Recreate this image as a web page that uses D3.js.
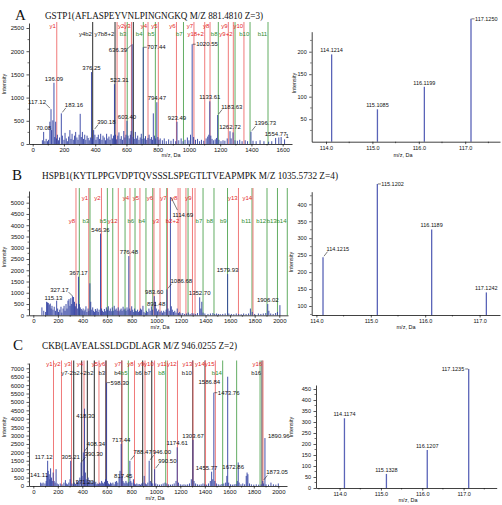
<!DOCTYPE html>
<html><head><meta charset="utf-8">
<script src="https://cdn.jsdelivr.net/npm/d3@7"></script>
<style>body{margin:0;background:#fff}svg{display:block}</style>
</head><body><svg id="c" width="502" height="505"></svg>
<script>
// ================= DATA =================
const panelLetters = ["A", "B", "C"];
const panelTitles = [
  "GSTP1(AFLASPEYVNLPINGNGKQ M/Z 881.4810 Z=3)",
  "HSPB1(KYTLPPGVDPTQVSSSLSPEGTLTVEAPMPK M/Z 1035.5732 Z=4)",
  "CKB(LAVEALSSLDGDLAGR M/Z 946.0255 Z=2)"
];
const mainXTicksA = [0,200,400,600,800,1000,1200,1400,1600];
const mainXTicksBC = [0,200,400,600,800,1000,1200,1400,1600,1800,2000];
const mainYTicksA = [0,500,1000,1500,2000,2500];
const mainYTicksB = [0,500,1000,1500,2000,2500,3000,3500,4000,4500,5000];
const mainYTicksC = [0,500,1000,1500,2000,2500,3000,3500,4000,4500,5000,5500,6000,6500,7000];
const insetXTicks = [114,115,116,117];
const insetYTicksA = [50,100,150,200];
const insetYTicksB = [100,150,200,250,300,350,400];
const insetYTicksC = [0,50,100,150,200,250,300,350,400,450];

// peaks: [m/z, intensity, optional label]
const peaksA = [
[62,80],[70.08,260,"70.08"],[78,60],[86,110],[95,60],[101,90],[110,480],[117.12,750,"117.12"],[121,300],[129,510],[136.09,1320,"136.09"],[141,150],[147,480],[152,120],[158,200],[165,80],[172,140],[183.16,660,"183.16"],[190,180],[200,90],[207,240],[215,120],[222,60],[230,160],[238,300],[245,110],[252,220],[260,90],[268,180],[275,260],[283,140],[290,90],[297,200],[304,650],[311,150],[318,260],[325,110],[333,200],[340,90],[348,180],[355,130],[362,80],[369,140],[376.25,1550,"376.25"],[383,120],[390.18,300,"390.18"],[398,200],[405,90],[412,150],[420,200],[428,110],[435,220],[443,90],[450,180],[458,140],[466,80],[473,220],[481,120],[488,160],[495,90],[502,210],[510,120],[517,180],[523.31,1290,"523.31"],[530,200],[537,100],[545,180],[552,250],[560,110],[567,170],[575,90],[583,280],[590,140],[597,200],[603.4,500,"603.40"],[610,180],[618,120],[625,200],[630,280],[636.39,2150,"636.39"],[643,150],[650,110],[657,260],[665,120],[672,180],[680,90],[688,140],[695,220],[700,110],[707.44,2085,"707.44"],[714,120],[722,170],[730,90],[738,130],[745,200],[752,110],[760,150],[767,90],[772,660],[780,180],[787,120],[794.47,900,"794.47"],[801,150],[808,90],[816,120],[830,80],[842,120],[855,60],[870,100],[885,70],[900,110],[915,60],[923.49,480,"923.49"],[935,80],[950,120],[962,60],[975,90],[990,140],[1000,80],[1010,200],[1020.55,2150,"1020.55"],[1030,150],[1042,90],[1055,110],[1068,60],[1080,90],[1095,70],[1110,120],[1120,160],[1127,200],[1133.61,920,"1133.61"],[1140,180],[1148,110],[1158,80],[1168,100],[1176,130],[1183.63,625,"1183.63"],[1192,90],[1205,60],[1218,80],[1230,70],[1245,120],[1262.72,275,"1262.72"],[1270,120],[1282,250],[1295,80],[1310,70],[1325,90],[1340,60],[1360,80],[1375,60],[1396.73,265,"1396.73"],[1410,70],[1430,60],[1455,80],[1480,60],[1510,50],[1530,60],[1554.77,130,"1554.77"],[1575,140],[1590,150],[1612,100,"1"]
];
const peaksB = [
[70,350],[85,200],[100,150],[108,600],[115.13,570,"115.13"],[122,550],[130,480],[138,520],[145,300],[152,420],[160,250],[170,380],[180,200],[190,650],[198,300],[205,150],[215,250],[225,380],[232,120],[242,300],[250,420],[258,200],[266,500],[274,300],[282,650],[290,720],[298,420],[305,760],[312,500],[318,850],[327.17,810,"327.17"],[335,600],[342,400],[350,520],[358,300],[367.17,1715,"367.17"],[375,500],[382,350],[390,280],[398,220],[405,300],[413,180],[420,250],[428,400],[436,150],[445,300],[452,200],[460,1420],[467,600],[475,250],[483,350],[490,200],[498,150],[505,280],[512,200],[520,300],[528,150],[535,250],[546.36,3630,"546.36"],[555,300],[562,200],[570,150],[578,280],[586,180],[594,350],[602,250],[610,400],[618,200],[626,300],[634,180],[642,350],[650,200],[658,420],[666,250],[674,300],[682,200],[690,350],[698,180],[706,250],[714,300],[722,200],[730,380],[738,250],[746,300],[754,200],[762,350],[770,250],[776.48,2630,"776.48"],[784,300],[792,200],[800,400],[808,250],[816,150],[824,300],[832,200],[840,180],[848,250],[856,150],[864,200],[872,300],[880,250],[891.48,420,"891.48"],[900,150],[910,100],[920,200],[930,150],[940,300],[950,200],[960,400],[970,250],[983.6,850,"983.60"],[992,600],[1000,300],[1010,180],[1020,250],[1030,150],[1040,200],[1050,120],[1060,200],[1070,150],[1080,250],[1086.68,1150,"1086.68"],[1095,300],[1105,200],[1114.69,5250,"1114.69"],[1122,400],[1130,250],[1140,150],[1150,200],[1160,120],[1170,300],[1180,100],[1190,150],[1200,80],[1215,100],[1230,60],[1245,80],[1260,120],[1275,60],[1290,100],[1305,80],[1320,60],[1335,100],[1352.7,800,"1352.70"],[1362,300],[1370,600],[1380,120],[1395,80],[1420,60],[1440,80],[1460,100],[1475,60],[1490,80],[1505,60],[1520,50],[1540,60],[1560,80],[1579.93,1830,"1579.93"],[1590,80],[1610,60],[1630,50],[1650,80],[1670,60],[1690,50],[1710,80],[1730,60],[1750,80],[1765,300],[1780,150],[1800,60],[1830,80],[1850,60],[1870,80],[1890,100],[1906.02,500,"1906.02"],[1915,200],[1930,80],[1950,60],[1970,100],[1985,150],[2005,450]
];
const peaksC = [
[60,200],[70,150],[80,200],[95,150],[105,300],[110,600],[117.12,1500,"117.12"],[122,900],[130,700],[135,400],[141.11,1050,"141.11"],[148,500],[155,300],[162,800],[170,300],[178,200],[186,1000],[195,150],[205,100],[220,150],[235,100],[250,200],[262,350],[270,150],[280,100],[290,200],[300,400],[305.21,1500,"305.21"],[315,150],[325,100],[335,200],[345,120],[355,300],[362,200],[371.2,300,"371.20"],[380,500],[390.3,1400,"390.30"],[398,600],[408.34,2000,"408.34"],[418.3,4600,"418.30"],[425,800],[432,400],[440,300],[448,500],[455,250],[462,350],[470,200],[478,150],[486,300],[494,200],[502,150],[510,250],[518,100],[526,150],[534,120],[542,200],[550,150],[558,300],[566,200],[574,150],[582,250],[590,400],[598.3,6150,"598.30"],[606,300],[614,150],[622,100],[630,200],[640,150],[650,200],[660,100],[670,250],[680,300],[690,200],[700,500],[708,900],[717.44,2500,"717.44"],[725,600],[732,300],[740,200],[748,150],[756,300],[764,200],[772,150],[780,250],[788.47,1500,"788.47"],[796,300],[805,200],[817.45,400,"817.45"],[825,150],[835,100],[845,150],[855,100],[865,120],[875,80],[885,150],[895,200],[905,600],[915,150],[925,100],[935,200],[946,1500,"946.00"],[955,300],[965,200],[975,150],[990.5,1000,"990.50"],[1000,150],[1015,100],[1030,80],[1045,100],[1060,150],[1075,200],[1090,150],[1105,100],[1120,80],[1135,100],[1150,150],[1165,300],[1174.61,2300,"1174.61"],[1185,200],[1200,100],[1215,80],[1230,100],[1245,80],[1260,100],[1275,150],[1290,400],[1303.67,2750,"1303.67"],[1312,300],[1325,150],[1340,100],[1355,80],[1370,100],[1385,150],[1400,100],[1415,80],[1430,150],[1445,300],[1455.77,850,"1455.77"],[1465,400],[1473.76,5550,"1473.76"],[1482,300],[1495,150],[1510,100],[1525,80],[1540,120],[1555,150],[1570,200],[1580,600],[1586.84,6500,"1586.84"],[1595,200],[1610,100],[1625,80],[1640,100],[1655,120],[1665,300],[1672.86,1400,"1672.86"],[1680,200],[1695,100],[1710,150],[1725,100],[1738,600],[1745,800],[1752,700],[1765,150],[1780,100],[1800,80],[1820,100],[1840,80],[1860,100],[1873.05,300,"1873.05"],[1880,150],[1890.96,2850,"1890.96"],[1900,100],[1920,80],[1940,200],[1960,100],[1980,80],[2000,150]
];

// fragment-ion annotation lines: [m/z, ion type (y red, b green, x dark), label, label row]
const ionsA = [
[154,'y','y1',1],[384,'x','y4b2',2],[527,'x','y7b8+2',2],[540,'y','',0],[591,'y','y2',1],[605,'b','b3',2],
[632,'y','y3',1],[644,'x','',0],[708,'b','b4',2],[738,'y','y4',1],[785,'b','b5',2],[804,'y','y5',1],
[920,'y','y6',1],[965,'b','b7',2],[1032,'y','y7',1],[1101,'y','y18+2',2],[1135,'y','y8',1],[1188,'b','b8',2],
[1252,'y','y9',1],[1284,'y','y9+2',2],[1295,'b','',0],[1352,'y','y10',1],[1391,'b','b10',2],[1506,'b','b11',2]
];
const ionsB = [
[347,'y','y8',2],[374,'b','',0],[451,'y','y1',1],[461,'b','b3',2],[554,'y','y2',1],[602,'b','b5',2],
[646,'b','',0],[691,'y','y12',2],[746,'b','',0],[786,'y','y4',1],[827,'b','b6',2],[867,'y','y5',1],
[916,'b','b4',2],[971,'b','',0],[981,'y','y6',1],[1030,'y','y3',2],[1085,'b','',0],[1091,'y','y7',1],
[1177,'y','y8',1],[1193,'y','b2+2',2],[1241,'y','',0],[1258,'b','',0],[1294,'y','y9',1],[1315,'y','',0],
[1380,'b','b7',2],[1469,'b','b8',2],[1579,'b','b9',2],[1668,'y','y13',1],[1778,'b','b11',2],[1786,'y','y14',1],
[1900,'b','b12',2],[1985,'b','b13',2],[2065,'b','b14',2]
];
const ionsC = [
[165,'y','y1',1],[230,'y','y2',1],[312,'y','y3',1],[330,'x','y7-2',2],[395,'x','',0],[414,'y','y4',1],
[441,'x','b2+2',2],[498,'x','b2',2],[536,'y','y5',1],[594,'y','y6',1],[593,'x','b3',2],[722,'x','b4',2],
[724,'y','y7',1],[776,'b','b5',2],[826,'y','y8',1],[893,'x','b6',2],[912,'y','y9',1],[967,'x','b7',2],
[990,'y','y10',1],[1081,'b','b8',2],[1095,'y','y11',1],[1177,'y','y12',1],[1301,'x','b10',2],[1304,'y','y13',1],
[1402,'x','',0],[1406,'y','y14',1],[1486,'y','y15',1],[1546,'b','b14',2],[1660,'b','',0],[1851,'b','',0],
[1867,'x','b16',2],[1875,'y','y16',1]
];

// iTRAQ reporter ions: [m/z, intensity]
const reporterA = [[114.1214,194],[115.1085,72],[116.1199,122],[117.1250,273]];
const reporterB = [[114.1215,244],[115.1202,460],[116.1189,326],[117.1242,140]];
const reporterC = [[114.1174,317],[115.1328,64],[116.1207,173],[117.1235,541]];

// ================= LAYOUT / STYLE =================
const SANS = "'Liberation Sans', Arial, Helvetica, sans-serif";
const SERIF = "'Liberation Serif', 'Times New Roman', serif";
const C_PEAK = "#2f3ea2", C_STEM = "#5a64b8";
const LINE_COL = {y:"#f07a7a", b:"#63ad63", x:"#2a2a2a"};
const TEXT_COL = {y:"#e32626", b:"#2e8c2e", x:"#222"};

const LAYOUT = [
 { letter:[15,20], title:[45,18.5,218],
   main:{left:29,right:292,x0:32.7,xr:[1600,282.7],base:144,top:23,yr:[2500,28],lineTop:22,rows:[28,36.3],
     xl:[171,157], yl:[6,84], xt:mainXTicksA, yt:mainYTicksA, peaks:peaksA, ions:ionsA, key:"A"},
   inset:{left:311.7,right:500,x0:[114,326],x1:[117,465.2],base:141.7,top:31.7,y0:[0,141.7],y1:[200,51.7],
     xl:[403,157], yl:[296,83], yt:insetYTicksA, data:reporterA, key:"Ai"} },
 { letter:[12,180], title:[42,179,296],
   main:{left:29,right:288,x0:33.3,xr:[2000,279.3],base:315.3,top:191,yr:[5000,202.7],lineTop:188,rows:[200,223],
     xl:[160,329], yl:[6,257], xt:mainXTicksBC, yt:mainYTicksB, peaks:peaksB, ions:ionsB, key:"B"},
   inset:{left:311.7,right:500,x0:[114,316.4],x1:[117,479.6],base:315,top:191.7,y0:[100,306],y1:[400,204.3],
     xl:[406,329], yl:[293,262], yt:insetYTicksB, data:reporterB, key:"Bi"} },
 { letter:[13,350], title:[42,349,195],
   main:{left:29,right:287,x0:33.3,xr:[2000,278.3],base:486,top:363,yr:[7000,368.3],lineTop:360.5,rows:[366,374.5],
     xl:[155,500], yl:[6,427], xt:mainXTicksBC, yt:mainYTicksC, peaks:peaksC, ions:ionsC, key:"C"},
   inset:{left:316,right:496.7,x0:[114,339.6],x1:[117,463.6],base:488,top:385,y0:[0,488],y1:[450,389],
     xl:[408,502], yl:[293,427], yt:insetYTicksC, data:reporterC, key:"Ci"} }
];

// label placement (presentation only)
const LBL = {
 "A:117.12":"ul","A:183.16":"ur","A:390.18":"ur","A:523.31":[5,-2,"middle"],"A:636.39":"dl","A:707.44":"r",
 "A:1020.55":"r","A:1183.63":"ur","A:1396.73":"ur","A:1":[1,-1,"start"],
 "B:115.13":[6,-2,"middle"],"B:327.17":"ul","B:891.48":[4,0,"start"],"B:1086.68":"ur","B:1114.69":"dr",
 "C:117.12":[-4,-2,"middle"],"C:141.11":[-20.5,9,"start"],"C:371.20":[6,3,"middle"],"C:390.30":"ur",
 "C:408.34":"ur","C:418.30":[1,9.5,"middle"],"C:598.30":"r","C:788.47":"ur","C:817.45":[-1,-1.5,"end"],
 "C:946.00":"ur","C:990.50":"ur","C:1455.77":[-5,-2,"middle"],"C:1473.76":"r","C:1586.84":[-7.5,7,"end"],
 "C:1672.86":[-5,7,"middle"],"C:1873.05":"ur","C:1890.96":[3,0,"start"],
 "Ai:117.1250":"r","Bi:114.1215":"ur","Bi:115.1202":"r","Ci:117.1235":"L"
};

const svg = d3.select("#c");
svg.append("rect").attr("width",502).attr("height",505).attr("fill","#fff");

function placeLabel(g, key, text, px, top, fs) {
  const p = LBL[key + ":" + text];
  let tx = px, ty = top - 2, anchor = "middle", lead = null;
  if (Array.isArray(p)) { tx = px + p[0]; ty = top + p[1]; anchor = p[2]; }
  else if (p === "r") { lead=[px+0.5,top,px+3.5,top]; tx=px+4; ty=top+2; anchor="start"; }
  else if (p === "L") { lead=[px-0.5,top,px-3.5,top]; tx=px-4.5; ty=top+2; anchor="end"; }
  else if (p === "ul") { lead=[px-1,top-1,px-5,top-5]; tx=px-5; ty=top-5.5; anchor="end"; }
  else if (p === "ur") { lead=[px+1,top-1,px+4.5,top-5.5]; tx=px+3.5; ty=top-6.5; anchor="start"; }
  else if (p === "dl") { lead=[px-1,top+1,px-5,top+5]; tx=px-5; ty=top+8; anchor="end"; }
  else if (p === "dr") { lead=[px+1,top+1,px+7,top+13]; tx=px+2; ty=top+20; anchor="start"; }
  if (lead) g.append("line").attr("x1",lead[0]).attr("y1",lead[1]).attr("x2",lead[2]).attr("y2",lead[3])
     .attr("stroke","#222").attr("stroke-width",0.6);
  g.append("text").attr("x",tx).attr("y",ty).attr("text-anchor",anchor)
    .attr("font-family",SANS).attr("font-size",fs).attr("fill","#111").text(text);
}

function styleAxis(sel, fs) {
  sel.selectAll("path.domain").attr("stroke","#111").attr("stroke-width",0.8);
  sel.selectAll(".tick line").attr("stroke","#111").attr("stroke-width",0.7);
  sel.selectAll(".tick text").attr("font-family",SANS).attr("font-size",fs).attr("fill","#111");
}

function axisTitles(g, xl, yl) {
  g.append("text").attr("x",xl[0]).attr("y",xl[1]).attr("text-anchor","middle")
    .attr("font-family",SANS).attr("font-size",5.5).attr("fill","#111").text("m/z, Da");
  g.append("text").attr("transform",`translate(${yl[0]},${yl[1]}) rotate(-90)`).attr("text-anchor","middle")
    .attr("font-family",SANS).attr("font-size",5.5).attr("fill","#111").text("Intensity");
}

function drawMain(M) {
  const g = svg.append("g");
  const kx = (M.xr[1]-M.x0)/M.xr[0];
  const x = d3.scaleLinear().domain([(M.left-M.x0)/kx,(M.right-M.x0)/kx]).range([M.left,M.right]);
  const ky = (M.base-M.yr[1])/M.yr[0];
  const y = d3.scaleLinear().domain([0,(M.base-M.top)/ky]).range([M.base,M.top]);

  g.selectAll("line.ion").data(M.ions).join("line").attr("class","ion")
    .attr("x1",d=>x(d[0])).attr("x2",d=>x(d[0])).attr("y1",M.lineTop).attr("y2",M.base)
    .attr("stroke",d=>LINE_COL[d[1]]).attr("stroke-width",1);
  g.selectAll("line.pk").data(M.peaks).join("line").attr("class","pk")
    .attr("x1",d=>x(d[0])).attr("x2",d=>x(d[0])).attr("y1",M.base).attr("y2",d=>y(d[1]))
    .attr("stroke",C_PEAK).attr("stroke-width",0.9);
  g.selectAll("text.ion").data(M.ions.filter(d=>d[2])).join("text").attr("class","ion")
    .attr("x",d=>x(d[0])-0.8).attr("y",d=>M.rows[d[3]-1]).attr("text-anchor","end")
    .attr("font-family",SANS).attr("font-size",6).attr("fill",d=>TEXT_COL[d[1]]).text(d=>d[2]);
  M.peaks.filter(d=>d[2]).forEach(d=>placeLabel(g, M.key, d[2], x(d[0]), y(d[1]), 6));

  const xa = g.append("g").attr("transform",`translate(0,${M.base})`)
    .call(d3.axisBottom(x).tickValues(M.xt).tickSize(2.5).tickSizeOuter(0).tickPadding(1).tickFormat(d3.format("d")));
  styleAxis(xa, 6);
  const minorX = d3.range(100, M.xt[M.xt.length-1]+1, 200).filter(v=>x(v)<=M.right);
  g.append("g").selectAll("line").data(minorX).join("line")
    .attr("x1",d=>x(d)).attr("x2",d=>x(d)).attr("y1",M.base).attr("y2",M.base+1.5)
    .attr("stroke","#111").attr("stroke-width",0.6);
  const ya = g.append("g").attr("transform",`translate(${M.left},0)`)
    .call(d3.axisLeft(y).tickValues(M.yt).tickSize(2.5).tickSizeOuter(0).tickPadding(2.5).tickFormat(d3.format("d")));
  styleAxis(ya, 6);
  const minorY = d3.range(250, y.domain()[1], 500);
  g.append("g").selectAll("line").data(minorY).join("line")
    .attr("x1",M.left-1.5).attr("x2",M.left).attr("y1",d=>y(d)).attr("y2",d=>y(d))
    .attr("stroke","#111").attr("stroke-width",0.6);
  axisTitles(g, M.xl, M.yl);
}

function drawInset(I) {
  const g = svg.append("g");
  const kx = (I.x1[1]-I.x0[1])/(I.x1[0]-I.x0[0]);
  const x = d3.scaleLinear().domain([I.x0[0]+(I.left-I.x0[1])/kx, I.x0[0]+(I.right-I.x0[1])/kx]).range([I.left,I.right]);
  const ky = (I.y0[1]-I.y1[1])/(I.y1[0]-I.y0[0]);
  const y = d3.scaleLinear().domain([I.y0[0]-(I.base-I.y0[1])/ky, I.y0[0]+(I.y0[1]-I.top)/ky]).range([I.base,I.top]);

  g.selectAll("line.st").data(I.data).join("line").attr("class","st")
    .attr("x1",d=>x(d[0])).attr("x2",d=>x(d[0])).attr("y1",I.base).attr("y2",d=>y(d[1]))
    .attr("stroke",C_STEM).attr("stroke-width",1.3);
  I.data.forEach(d=>placeLabel(g, I.key, d[0].toFixed(4), x(d[0]), y(d[1]), 5.5));

  const xa = g.append("g").attr("transform",`translate(0,${I.base})`)
    .call(d3.axisBottom(x).tickValues(insetXTicks).tickSize(2.5).tickSizeOuter(0).tickPadding(1.5).tickFormat(d3.format(".1f")));
  styleAxis(xa, 5.5);
  const minorX = [113.5,114.5,115.5,116.5,117.5].filter(v=>x(v)>=I.left && x(v)<=I.right);
  g.append("g").selectAll("line").data(minorX).join("line")
    .attr("x1",d=>x(d)).attr("x2",d=>x(d)).attr("y1",I.base).attr("y2",I.base+1.5)
    .attr("stroke","#111").attr("stroke-width",0.6);
  const ya = g.append("g").attr("transform",`translate(${I.left},0)`)
    .call(d3.axisLeft(y).tickValues(I.yt).tickSize(2.5).tickSizeOuter(0).tickPadding(2.5).tickFormat(d3.format("d")));
  styleAxis(ya, 5.5);
  const minorY = d3.range(25, y.domain()[1], 50).filter(v=>v>y.domain()[0]);
  g.append("g").selectAll("line").data(minorY).join("line")
    .attr("x1",I.left-1.5).attr("x2",I.left).attr("y1",d=>y(d)).attr("y2",d=>y(d))
    .attr("stroke","#111").attr("stroke-width",0.6);
  axisTitles(g, I.xl, I.yl);
}

LAYOUT.forEach((L,i)=>{
  svg.append("text").attr("x",L.letter[0]).attr("y",L.letter[1]).attr("font-family",SERIF)
    .attr("font-size",15).attr("fill","#111").text(panelLetters[i]);
  svg.append("text").attr("x",L.title[0]).attr("y",L.title[1]).attr("font-family",SERIF)
    .attr("font-size",10).attr("fill","#111").attr("textLength",L.title[2]).attr("lengthAdjust","spacingAndGlyphs")
    .text(panelTitles[i]);
  drawMain(L.main);
  drawInset(L.inset);
});
</script></body></html>
